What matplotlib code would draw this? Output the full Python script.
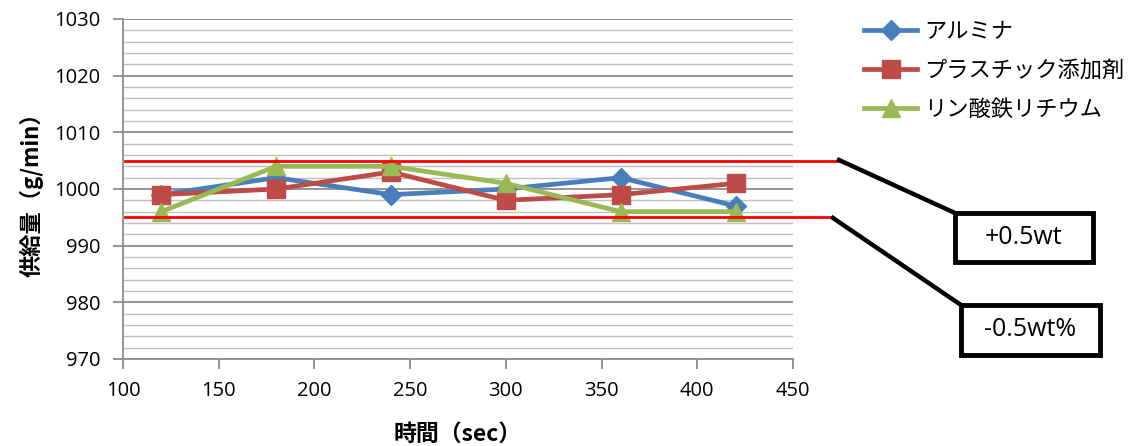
import numpy as np
import matplotlib.pyplot as plt
from matplotlib.patches import Rectangle
from matplotlib.lines import Line2D

plt.rcParams['font.family'] = ['Noto Sans CJK JP', 'DejaVu Sans']

# data
times = [120, 180, 240, 300, 360, 420]
alumina = [999, 1002, 999, 1000, 1002, 997]
plastic = [999, 1000, 1003, 998, 999, 1001]
lfp = [996, 1004, 1004, 1001, 996, 996]
series_names = ['アルミナ', 'プラスチック添加剤', 'リン酸鉄リチウム']
upper_limit = 1005
lower_limit = 995
box_labels = ['+0.5wt', '-0.5wt%']

W, H = 1137, 446


def fx(px):
    return px / W


def fy(py):
    return 1 - py / H


def main():
    fig = plt.figure(figsize=(W / 100, H / 100), dpi=100)
    ax = fig.add_axes([fx(123), fy(359), fx(793) - fx(123), fy(19) - fy(359)])

    ax.plot(times, alumina, color='#4a7ebb', lw=3.4, marker='D', ms=10, label=series_names[0])
    ax.plot(times, plastic, color='#be4b48', lw=3.4, marker='s', ms=13, label=series_names[1])
    ax.plot(times, lfp, color='#98b954', lw=3.4, marker='^', ms=13, label=series_names[2])

    # limit lines running out past the plot area
    ax.plot([101, 474.5], [upper_limit, upper_limit], color='red', lw=2, clip_on=False, zorder=5)
    ax.plot([101, 471], [lower_limit, lower_limit], color='red', lw=2, clip_on=False, zorder=5)

    ax.set_xlim(100, 450)
    ax.set_ylim(970, 1030)
    ax.set_xticks(np.arange(100, 451, 50))
    ax.set_yticks(np.arange(970, 1031, 10))
    ax.set_yticks(np.arange(970, 1031, 2), minor=True)
    ax.grid(axis='y', which='major', color='#8c8c8c', lw=1.3)
    ax.grid(axis='y', which='minor', color='#c0c0c0', lw=1.0)
    ax.set_axisbelow(True)
    ax.tick_params(axis='both', which='major', labelsize=14.5, color='#8c8c8c',
                   length=7, width=1.3, pad=9)
    ax.tick_params(axis='y', which='minor', length=0)
    for lab in ax.get_xticklabels() + ax.get_yticklabels():
        lab.set_family(['Open Sans', 'DejaVu Sans'])
    for s in ['top', 'right']:
        ax.spines[s].set_visible(False)
    for s in ['left', 'bottom']:
        ax.spines[s].set_color('#8c8c8c')
        ax.spines[s].set_linewidth(1.3)

    ax.set_xlabel('時間（sec）', fontsize=16.5, fontweight='bold', labelpad=16)
    ax.set_ylabel('供給量（g/min）', fontsize=16, fontweight='bold', labelpad=8)

    fig.legend(loc='upper left', bbox_to_anchor=(fx(864), fy(20)), frameon=False,
               borderpad=0, borderaxespad=0,
               fontsize=16, handlelength=2.4, labelspacing=0.72, handletextpad=0.3)

    # connectors and labelled boxes
    fig.add_artist(Line2D([fx(839), fx(955)], [fy(160), fy(213)], color='black', lw=3.2))
    fig.add_artist(Line2D([fx(833), fx(961)], [fy(218), fy(305)], color='black', lw=3.2))
    boxes = [(955, 213, 1093, 262), (961, 305, 1100, 355)]
    for (x0, y0, x1, y1), txt in zip(boxes, box_labels):
        fig.add_artist(Rectangle((fx(x0), fy(y1)), fx(x1) - fx(x0), fy(y0) - fy(y1),
                                 transform=fig.transFigure, fill=True, facecolor='white',
                                 edgecolor='black', lw=3.5))
        fig.text(fx((x0 + x1) / 2), fy((y0 + y1) / 2), txt, ha='center', va='center',
                 fontsize=18, family=['Open Sans', 'DejaVu Sans'])

    plt.savefig('out.png')


if __name__ == "__main__":
    main()
